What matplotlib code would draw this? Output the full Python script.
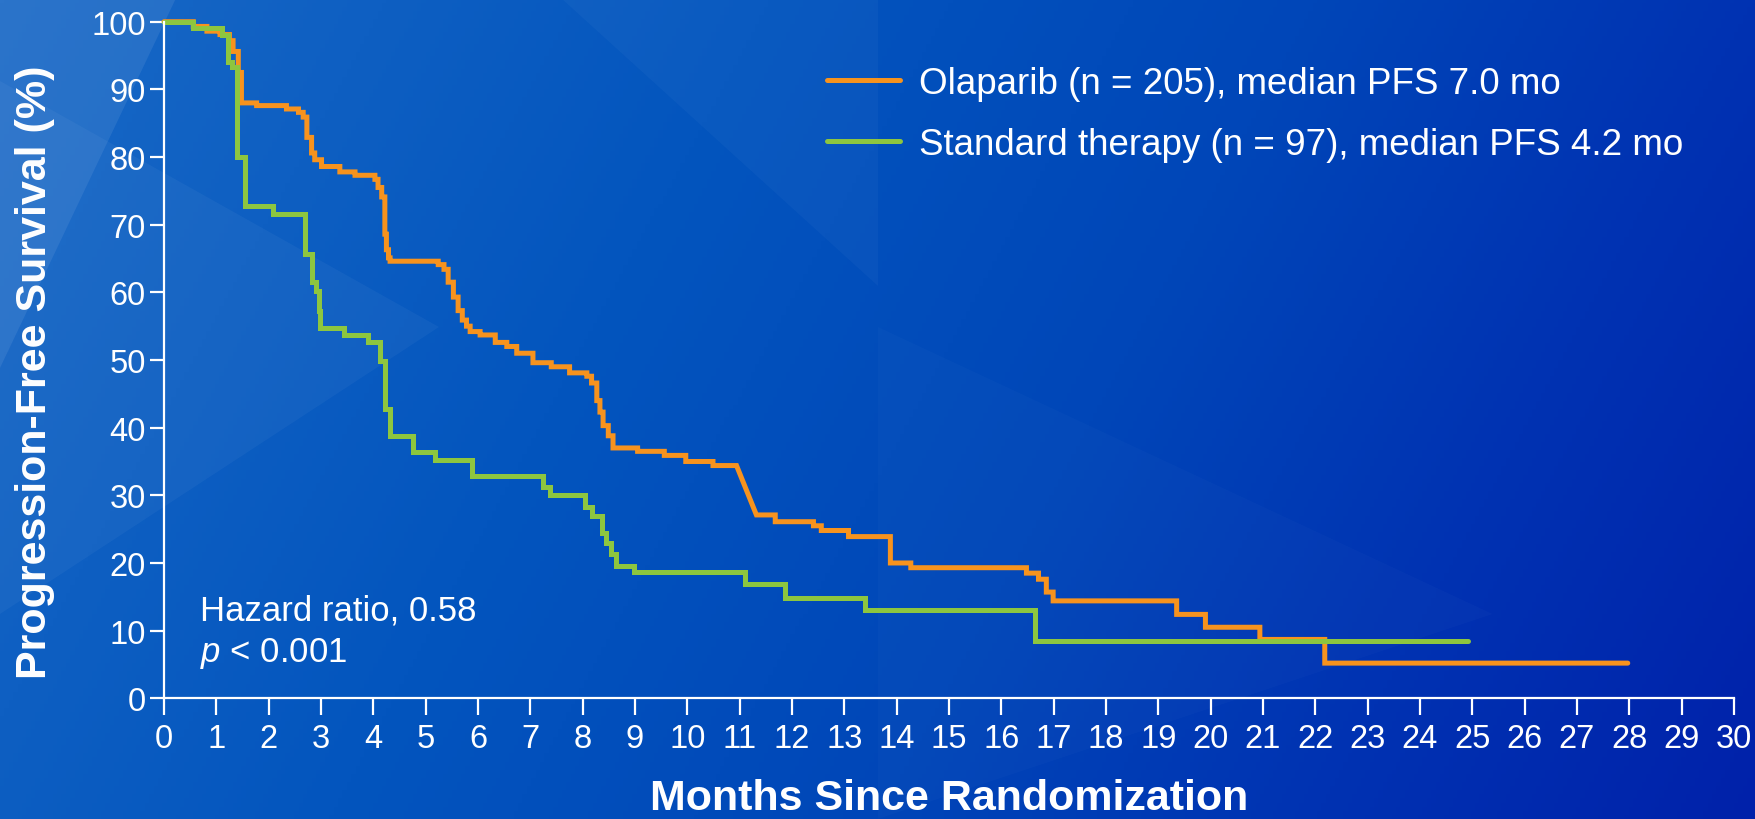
import matplotlib.pyplot as plt
import numpy as np
from matplotlib.patches import Polygon

plt.rcParams['font.family'] = ['Liberation Sans', 'DejaVu Sans']
plt.rcParams['mathtext.fontset'] = 'custom'
plt.rcParams['mathtext.rm'] = 'Liberation Sans'
plt.rcParams['mathtext.it'] = 'Liberation Sans:italic'

# Kaplan-Meier curves (months, % progression-free)
olaparib_t = [0, 0.56, 0.82, 1.07, 1.25, 1.32, 1.42, 1.48, 1.77, 2.34,
              2.57, 2.66, 2.73, 2.82, 2.88, 3.01, 3.36, 3.65, 4.03, 4.09,
              4.16, 4.22, 4.25, 4.29, 4.32, 5.24, 5.35, 5.43, 5.53, 5.62,
              5.70, 5.78, 5.85, 6.04, 6.33, 6.55, 6.74, 7.05, 7.40, 7.75,
              8.08, 8.17, 8.27, 8.33, 8.39, 8.49, 8.58, 9.05, 9.56, 9.97,
              10.49, 10.94, 11.32, 11.68, 12.41, 12.56, 13.08, 13.88, 14.27, 16.48,
              16.71, 16.86, 16.99, 19.35, 19.90, 20.94, 22.18, 27.97]
olaparib_s = [100, 99.3, 98.6, 98.1, 97.2, 95.6, 92.5, 88.0, 87.6, 87.1,
              86.6, 85.9, 82.9, 80.6, 79.6, 78.6, 77.8, 77.3, 76.7, 75.5,
              74.1, 68.6, 66.3, 65.1, 64.6, 64.1, 63.4, 61.5, 59.3, 57.3,
              55.9, 55.0, 54.2, 53.7, 52.6, 52.0, 51.0, 49.6, 49.0, 48.1,
              47.6, 46.6, 44.0, 42.3, 40.3, 38.8, 37.0, 36.5, 35.9, 35.0,
              34.4, 34.4, 27.1, 26.1, 25.5, 24.8, 23.9, 20.0, 19.3, 18.5,
              17.6, 15.7, 14.4, 12.4, 10.5, 8.7, 5.2, 5.2]
olaparib_ramps = [11.32]   # this drop is drawn as a slope, not a step

standard_t = [0, 0.56, 1.10, 1.23, 1.29, 1.39, 1.55, 2.08, 2.69, 2.82,
              2.91, 2.96, 2.99, 3.43, 3.90, 4.13, 4.22, 4.32, 4.76, 5.18,
              5.88, 7.25, 7.37, 8.04, 8.17, 8.36, 8.45, 8.55, 8.63, 8.98,
              11.11, 11.87, 13.39, 16.65, 24.92]
standard_s = [100, 99.1, 98.1, 94.1, 93.3, 80.0, 72.8, 71.6, 65.6, 61.6,
              60.2, 57.3, 54.7, 53.7, 52.6, 49.8, 42.7, 38.7, 36.4, 35.2,
              32.8, 31.2, 30.0, 28.2, 27.0, 24.5, 23.0, 21.3, 19.6, 18.6,
              16.9, 14.8, 13.0, 8.4, 8.4]
standard_ramps = []

labels = ['Olaparib (n = 205), median PFS 7.0 mo',
          'Standard therapy (n = 97), median PFS 4.2 mo']
colors = ['#F7931E', '#8DC63F']
x_ticks = list(range(0, 31))
y_ticks = list(range(0, 101, 10))


def km_path(t, s, ramps=()):
    xs, ys = [t[0]], [s[0]]
    for i in range(1, len(t)):
        if t[i] not in ramps:
            xs.append(t[i])
            ys.append(s[i - 1])
        xs.append(t[i])
        ys.append(s[i])
    return xs, ys


W, H = 1756, 820
fig = plt.figure(figsize=(W / 100, H / 100), dpi=100)

# blue background
bg = fig.add_axes([0, 0, 1, 1], zorder=0)
u = np.linspace(0, 1, 400)
v = np.linspace(0, 1, 200)
U, V = np.meshgrid(u, v)
tt = 0.8 * U + 0.2 * V
stops = [0, 0.35, 0.6, 0.8, 1.0]
cols = np.array([[25, 105, 198], [3, 85, 190], [0, 70, 184],
                 [0, 50, 178], [0, 33, 170]]) / 255
img = np.stack([np.interp(tt, stops, cols[:, k]) for k in range(3)], axis=-1)
bg.imshow(img, aspect='auto', extent=(0, 1, 0, 1), origin='upper')
for pts, a in [([(0, 1), (0.1, 1), (0, 0.55)], 0.08),
               ([(0, 0.9), (0.25, 0.6), (0, 0.25)], 0.04),
               ([(0.32, 1), (0.5, 1), (0.5, 0.65)], 0.03),
               ([(0.5, 0.6), (0.85, 0.25), (0.5, 0.0)], 0.02)]:
    bg.add_patch(Polygon(pts, closed=True, fc='white', ec='none', alpha=a))
bg.set_xlim(0, 1)
bg.set_ylim(0, 1)
bg.set_axis_off()

ax = fig.add_axes([164 / W, 1 - 699.3 / H, 1570 / W, 676.6 / H], zorder=1)
ax.patch.set_alpha(0)

for t, s, r, c, lab in [(olaparib_t, olaparib_s, olaparib_ramps, colors[0], labels[0]),
                        (standard_t, standard_s, standard_ramps, colors[1], labels[1])]:
    xs, ys = km_path(t, s, r)
    ax.plot(xs, ys, color=c, lw=3.6, label=lab, clip_on=False,
            solid_joinstyle='miter', solid_capstyle='round')

ax.set_xlim(0, 30)
ax.set_ylim(0, 100)
ax.set_xticks(x_ticks)
ax.set_yticks(y_ticks)
for side in ['top', 'right']:
    ax.spines[side].set_visible(False)
for side in ['left', 'bottom']:
    ax.spines[side].set_color('white')
    ax.spines[side].set_linewidth(1.6)
ax.tick_params(axis='x', colors='white', labelsize=23.5, length=12.5, width=1.6, pad=5)
ax.tick_params(axis='y', colors='white', labelsize=23.5, length=10.3, width=1.6, pad=3)

ax.set_ylabel('Progression-Free Survival (%)', color='white', fontsize=31, fontweight='bold')
ax.yaxis.set_label_coords(-0.0822, 0.483)
ax.yaxis.label.set_va('center')
ax.set_xlabel('Months Since Randomization', color='white', fontsize=31, fontweight='bold')
ax.xaxis.set_label_coords(0.5, -0.163)
ax.xaxis.label.set_va('baseline')

ax.text(0.69, 11.7, 'Hazard ratio, 0.58', color='white', fontsize=25, va='baseline')
ax.text(0.69, 5.56, '$p$ < 0.001', color='white', fontsize=25, va='baseline')

leg = ax.legend(loc='upper left', bbox_to_anchor=(0.4221, 0.935), frameon=False,
                fontsize=26.5, labelcolor='white', handlelength=2.0,
                handletextpad=0.5, labelspacing=0.71, borderpad=0, borderaxespad=0)
for h in leg.get_lines():
    h.set_solid_capstyle('round')

fig.savefig('out.png', dpi=100)
